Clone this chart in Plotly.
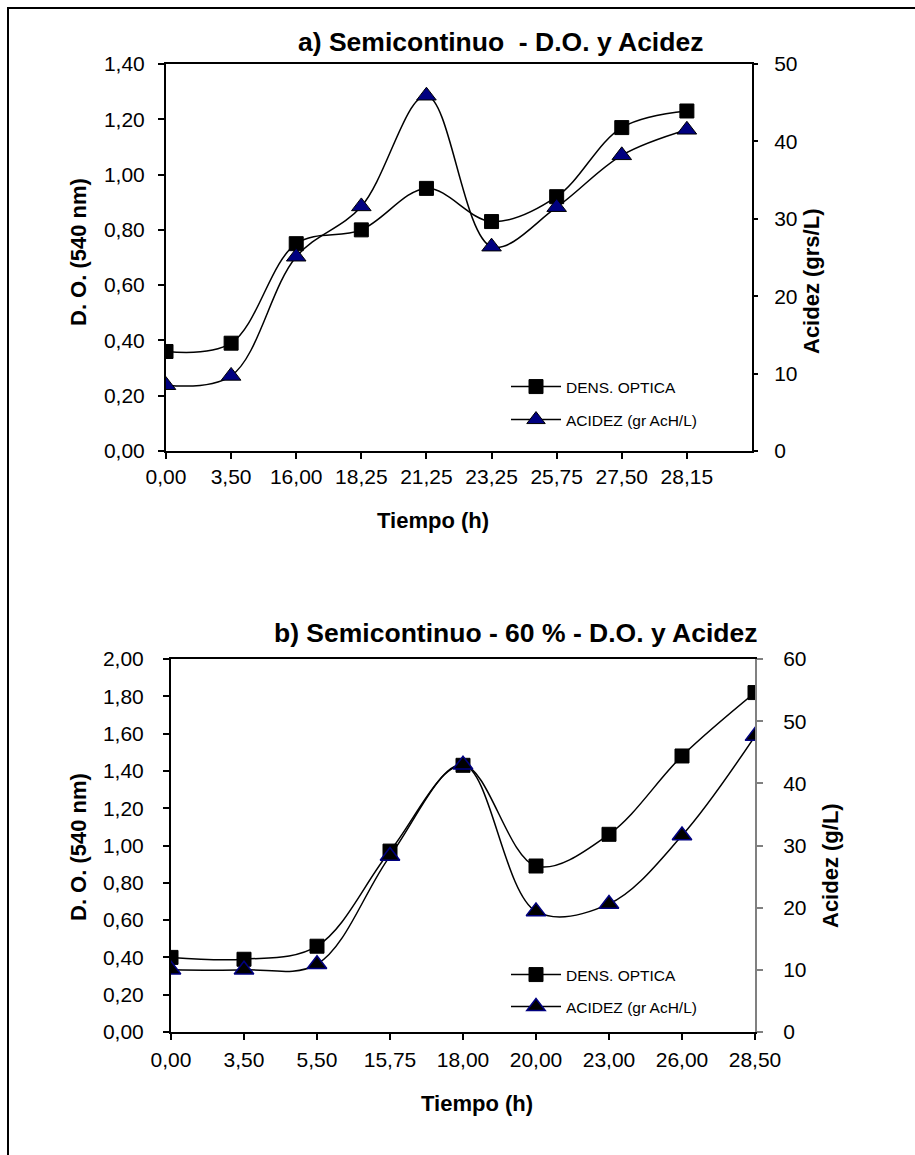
import plotly.graph_objects as go

# ---------------- data ----------------
# Chart a)
tiempo_a = ["0,00", "3,50", "16,00", "18,25", "21,25", "23,25", "25,75", "27,50", "28,15"]
do_a = [0.36, 0.39, 0.75, 0.80, 0.95, 0.83, 0.92, 1.17, 1.23]
acidez_a = [8.5, 9.7, 25.1, 31.6, 45.9, 26.4, 31.5, 38.2, 41.5]

# Chart b)
tiempo_b = ["0,00", "3,50", "5,50", "15,75", "18,00", "20,00", "23,00", "26,00", "28,50"]
do_b = [0.40, 0.39, 0.46, 0.97, 1.43, 0.89, 1.06, 1.48, 1.82]
acidez_b = [10.0, 10.0, 10.9, 28.3, 43.0, 19.4, 20.6, 31.6, 47.6]

W, H = 915, 1155
FONT = "Liberation Sans, Arial, sans-serif"


def px(x):
    return x / W


def py(y):
    return 1 - y / H


fig = go.Figure()

line = dict(color="black", width=1.5, shape="spline", smoothing=1.0)

# Chart a traces
fig.add_trace(go.Scatter(x=tiempo_a, y=do_a, name="DENS. OPTICA", mode="lines+markers",
                         line=line, xaxis="x", yaxis="y", legend="legend",
                         marker=dict(symbol="square", size=14, color="black",
                                     line=dict(color="black", width=1))))
fig.add_trace(go.Scatter(x=tiempo_a, y=acidez_a, name="ACIDEZ (gr AcH/L)", mode="lines+markers",
                         line=line, xaxis="x", yaxis="y2", legend="legend2",
                         marker=dict(symbol="triangle-up", size=17, color="#000080",
                                     line=dict(color="black", width=1))))
# Chart b traces
fig.add_trace(go.Scatter(x=tiempo_b, y=do_b, name="DENS. OPTICA", mode="lines+markers",
                         line=line, xaxis="x2", yaxis="y3", legend="legend3",
                         marker=dict(symbol="square", size=14, color="black",
                                     line=dict(color="black", width=1))))
fig.add_trace(go.Scatter(x=tiempo_b, y=acidez_b, name="ACIDEZ (gr AcH/L)", mode="lines+markers",
                         line=line, xaxis="x2", yaxis="y4", legend="legend4",
                         marker=dict(symbol="triangle-up", size=17, color="black",
                                     line=dict(color="#000080", width=1.5))))

tickfont = dict(family=FONT, size=21, color="black")

# plot area pixel boxes
A = dict(l=166, r=752, t=64, b=451)
B = dict(l=171, r=755, t=659, b=1032)

common_x = dict(type="category", showline=True, linecolor="black", linewidth=2, mirror=True,
                ticks="outside", ticklen=6, tickcolor="black", tickwidth=1.5, automargin=False,
                showgrid=False, zeroline=False, tickfont=tickfont, fixedrange=True)
common_y = dict(showline=True, linewidth=2, ticks="outside", tickwidth=1.5, automargin=False,
                showgrid=False, zeroline=False, tickfont=tickfont, fixedrange=True)

fig.update_layout(
    template="none",
    width=W, height=H,
    margin=dict(l=0, r=0, t=0, b=0, pad=0, autoexpand=False),
    paper_bgcolor="white", plot_bgcolor="white",
    separators=",.",
    showlegend=True,
    font=dict(family=FONT, color="black"),
    xaxis=dict(common_x, domain=[px(A["l"]), px(A["r"])], anchor="y", range=[0, 9],
               ticklabelstandoff=0),
    yaxis=dict(common_y, domain=[py(A["b"]), py(A["t"])], anchor="x", range=[0, 1.4],
               tickvals=[0, .2, .4, .6, .8, 1.0, 1.2, 1.4], tickformat=".2f",
               linecolor="black", ticklen=6, tickcolor="black", ticklabelstandoff=9),
    yaxis2=dict(common_y, overlaying="y", side="right", anchor="x", range=[0, 50], dtick=10,
                linecolor="black", ticklen=4, tickcolor="black", ticklabelstandoff=12),
    xaxis2=dict(common_x, domain=[px(B["l"]), px(B["r"])], anchor="y3", range=[0, 8],
                ticklabelstandoff=2),
    yaxis3=dict(common_y, domain=[py(B["b"]), py(B["t"])], anchor="x2", range=[0, 2.0],
                tickvals=[0, .2, .4, .6, .8, 1.0, 1.2, 1.4, 1.6, 1.8, 2.0], tickformat=".2f",
                linecolor="black", ticklen=6, tickcolor="black", ticklabelstandoff=15),
    yaxis4=dict(common_y, overlaying="y3", side="right", anchor="x2", range=[0, 60], dtick=10,
                linecolor="#808080", ticklen=6, tickcolor="#808080", ticklabelstandoff=16),
)

legend_style = dict(xanchor="left", yanchor="middle", bgcolor="rgba(0,0,0,0)", borderwidth=0,
                    font=dict(family=FONT, size=15.5, color="black"), itemsizing="trace",
                    itemwidth=50)
fig.update_layout(
    legend=dict(legend_style, x=px(506), y=py(387)),
    legend2=dict(legend_style, x=px(506), y=py(420)),
    legend3=dict(legend_style, x=px(506), y=py(975)),
    legend4=dict(legend_style, x=px(506), y=py(1007)),
)

ann = []


def text(x, y, s, size, bold=True, angle=0):
    ann.append(dict(x=px(x), y=py(y), xref="paper", yref="paper", text=f"<b>{s}</b>" if bold else s,
                    showarrow=False, xanchor="center", yanchor="middle", textangle=angle,
                    font=dict(family=FONT, size=size, color="black")))


text(501, 42, "a) Semicontinuo&nbsp;&nbsp;- D.O. y Acidez", 26.5)
text(515, 633, "b) Semicontinuo - 60 % - D.O. y Acidez", 26.5)
text(79, 252, "D. O. (540 nm)", 22, angle=-90)
text(812, 282, "Acidez (grs/L)", 22, angle=-90)
text(433, 520, "Tiempo (h)", 22)
text(79, 847, "D. O. (540 nm)", 22, angle=-90)
text(830, 866, "Acidez (g/L)", 22, angle=-90)
text(477, 1103, "Tiempo (h)", 22)
fig.update_layout(annotations=ann)

# outer frame (only top and left edges are inside the picture)
fig.add_shape(type="line", xref="paper", yref="paper", x0=px(7), x1=px(W + 20), y0=py(8), y1=py(8),
              line=dict(color="black", width=2), layer="above")
fig.add_shape(type="line", xref="paper", yref="paper", x0=px(8), x1=px(8), y0=py(7), y1=py(H + 20),
              line=dict(color="black", width=2), layer="above")

fig.write_html("out.html", config={"displayModeBar": False},
               post_script="document.body.style.margin='0';document.body.style.overflow='hidden';")
